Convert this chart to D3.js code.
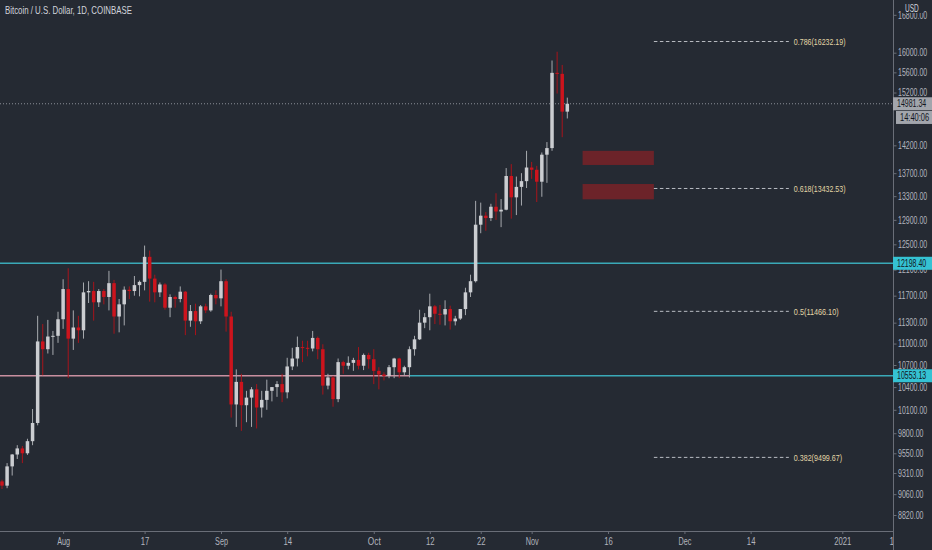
<!DOCTYPE html>
<html>
<head>
<meta charset="utf-8">
<script src="https://cdn.jsdelivr.net/npm/d3@7"></script>
<style>
  body { margin: 0; background: #252a33; overflow: hidden; }
  text { font-family: "Liberation Sans Narrow", "Liberation Sans", sans-serif; }
</style>
</head>
<body>
<div id="box"></div>
<script>
// BTC/USD daily candles, Jul 20 - Nov 8 2020
var firstDay = "2020-07-20";
var opens = [9210,9160,9390,9535,9610,9550,9700,9930,11030,10920,11100,11110,
  11350,11800,11070,11230,11190,11750,11770,11600,11770,11680,11890,11390,11570,11790,11770,11860,11910,12300,11960,11750,11870,11520,11680,11650,11760,11330,11470,11320,11540,11480,11710,
  11660,11920,11390,10170,10470,10160,10260,10370,10130,10230,10350,10400,10440,10330,10680,10790,10950,10940,10930,11080,10920,10420,10530,10240,10740,10690,10730,10770,10690,10840,
  10780,10620,10570,10550,10670,10790,10600,10670,10920,11060,11300,11380,11540,11430,11420,11500,11320,11360,11500,11750,11920,12820,12970,12930,13120,13040,13070,13650,13280,13460,13560,
  13800,13760,13550,14030,14150,15590,15570,14830];
var highs = [9230,9430,9540,9650,9640,9730,10110,11400,11280,11340,11180,11460,
  11950,12120,11480,11400,11900,11920,11910,11800,11800,12080,11940,11650,11840,11840,12000,11930,12480,12400,12020,11900,11890,11720,11700,11840,11770,11560,11580,11560,11580,11730,11780,
  12100,11950,11460,10640,10580,10350,10400,10440,10350,10500,10400,10480,10580,10800,10940,11100,11040,11040,11180,11100,10990,10580,10550,10790,10760,10820,10800,10950,10860,10870,
  10920,10670,10600,10700,10800,10800,10690,10960,11110,11490,11440,11730,11560,11560,11630,11550,11400,11500,11820,12020,13220,13190,13030,13170,13350,13250,13790,13860,13640,13700,14100,
  13900,13830,14070,14260,15840,16020,15750,15100];
var lows = [9120,9130,9280,9480,9430,9530,9650,9900,10560,10860,10840,11010,
  11210,10520,10910,11010,11070,11590,11330,11530,11570,11480,11140,11160,11260,11650,11700,11690,11780,11610,11600,11680,11490,11380,11520,11600,11120,11240,11120,11280,11440,11460,11570,
  11540,11170,10000,9880,9830,9940,9880,9860,10000,10100,10210,10270,10200,10250,10630,10680,10740,10820,10890,10780,10300,10370,10140,10200,10580,10640,10620,10640,10630,10650,
  10440,10370,10490,10520,10520,10520,10550,10530,10830,11050,11220,11190,11280,11270,11260,11200,11260,11340,11410,11680,11900,12680,12720,12880,12900,12780,13060,12920,12980,13140,13440,
  13600,13200,13290,13530,14100,15180,14350,14700];
var closes = [9160,9390,9535,9610,9550,9700,9930,11030,10920,11100,11110,11350,
  11800,11070,11230,11190,11750,11770,11600,11770,11680,11890,11390,11570,11790,11770,11860,11910,12300,11960,11750,11870,11520,11680,11650,11760,11330,11470,11320,11540,11480,11710,11660,
  11920,11390,10170,10470,10160,10260,10370,10130,10230,10350,10400,10440,10330,10680,10790,10950,10940,10930,11080,10920,10420,10530,10240,10740,10690,10730,10770,10690,10840,10780,
  10620,10570,10550,10670,10790,10600,10670,10920,11060,11300,11380,11540,11430,11420,11500,11320,11360,11500,11750,11920,12820,12970,12930,13120,13040,13070,13650,13280,13460,13560,13800,
  13760,13550,14030,14150,15590,15570,14830,14981.34];

var priceTicks = [8820,9060,9310,9550,9800,10100,10400,10700,11000,11300,11700,12100,12500,12900,13300,13700,14200,15200,15600,16000,16800];
var dateTicks = ["2020-08-01","2020-08-17","2020-09-01","2020-09-14","2020-10-01","2020-10-12","2020-10-22",
  "2020-11-01","2020-11-16","2020-12-01","2020-12-14","2021-01-01","2021-01-11"];
var dateLabels = ["Aug","17","Sep","14","Oct","12","22","Nov","16","Dec","14","2021","11"];

// drawings
var fibRatios = ["0.786","0.618","0.5","0.382"];
var fibPrices = [16232.19,13432.53,11466.10,9499.67];
var fibFrom = "2020-11-25", fibTo = "2020-12-21 12";
var zoneTops = [14100,13510];
var zoneBottoms = [13845,13246];
var zoneFrom = "2020-11-11", zoneTo = "2020-11-25";
var levelTop = 12198.40;
var levelBottom = 10553.13;
var levelBottomStart = "2020-10-08";
var lastPrice = 14981.34;
var countdown = "14:40:06";

var width = 932, height = 550;
var plotW = 893, plotH = 531;
var bg = "#252a33";
var charW = 3.65; // the chart font is narrow

var parseDay = d3.timeParse("%Y-%m-%d");
var parseHour = d3.timeParse("%Y-%m-%d %H");
var day0 = parseDay(firstDay);
var candles = closes.map(function(c, i) {
  return {date: d3.timeDay.offset(day0, i), o: opens[i], h: highs[i], l: lows[i], c: c};
});

var x = d3.scaleTime()
  .domain([day0, candles[candles.length - 1].date])
  .range([2, 567.3]);
var y = d3.scaleLog()
  .domain([8820, 16000])
  .range([515, 52.7]);

// squeeze text horizontally so it reads like the narrow chart font
function narrow(sel, per) {
  sel.each(function() {
    var t = d3.select(this);
    var w = this.getComputedTextLength();
    var s = w > 0 ? (this.textContent.length * per) / w : 1;
    var x0 = +t.attr("x") || 0, y0 = +t.attr("y") || 0;
    t.attr("x", 0).attr("y", 0)
      .attr("transform", "translate(" + x0 + "," + y0 + ") scale(" + s + ",1)");
  });
}

var svg = d3.select("#box").append("svg")
  .attr("width", width)
  .attr("height", height);

svg.append("rect").attr("width", width).attr("height", height).attr("fill", bg);

svg.append("clipPath").attr("id", "plotclip")
  .append("rect").attr("width", plotW).attr("height", plotH);

var plot = svg.append("g").attr("clip-path", "url(#plotclip)");

// horizontal levels
plot.append("line")
  .attr("x1", 0).attr("x2", plotW)
  .attr("y1", y(levelTop)).attr("y2", y(levelTop))
  .attr("stroke", "#3aa9b8").attr("stroke-width", 1.5);
plot.append("line")
  .attr("x1", 0).attr("x2", x(parseDay(levelBottomStart)))
  .attr("y1", y(levelBottom)).attr("y2", y(levelBottom))
  .attr("stroke", "#c98fa0").attr("stroke-width", 1.5);
plot.append("line")
  .attr("x1", x(parseDay(levelBottomStart))).attr("x2", plotW)
  .attr("y1", y(levelBottom)).attr("y2", y(levelBottom))
  .attr("stroke", "#3aa9b8").attr("stroke-width", 1.5);

// last price dotted line
plot.append("line")
  .attr("x1", 0).attr("x2", plotW)
  .attr("y1", y(lastPrice)).attr("y2", y(lastPrice))
  .attr("stroke", "#8a8e97").attr("stroke-width", 1)
  .attr("stroke-dasharray", "1,2");

// red zones
plot.selectAll("rect.zone")
  .data(zoneTops)
  .enter().append("rect")
  .attr("class", "zone")
  .attr("x", x(parseDay(zoneFrom)))
  .attr("width", x(parseDay(zoneTo)) - x(parseDay(zoneFrom)))
  .attr("y", function(d) { return y(d); })
  .attr("height", function(d, i) { return y(zoneBottoms[i]) - y(d); })
  .attr("fill", "#6c2329");

// fib levels
var fx1 = x(parseDay(fibFrom)), fx2 = x(parseHour(fibTo));
plot.selectAll("line.fib")
  .data(fibPrices)
  .enter().append("line")
  .attr("class", "fib")
  .attr("x1", fx1).attr("x2", fx2)
  .attr("y1", function(d) { return y(d); })
  .attr("y2", function(d) { return y(d); })
  .attr("stroke", "#b9bcc3").attr("stroke-width", 1)
  .attr("stroke-dasharray", "3.5,2.5");
plot.selectAll("text.fib")
  .data(fibPrices)
  .enter().append("text")
  .attr("class", "fib")
  .attr("x", fx2 + 5)
  .attr("y", function(d) { return y(d) + 3.3; })
  .attr("font-size", 9.5)
  .attr("fill", "#e2d6a6")
  .text(function(d, i) { return fibRatios[i] + "(" + d3.format(".2f")(d) + ")"; })
  .call(narrow, 3.45);

// candles
var upBody = "#cbcdd1", upWick = "#a7aaaf";
var dnBody = "#cc141d", dnWick = "#a8141b";
var bw = 3.5;

plot.selectAll("line.wick")
  .data(candles)
  .enter().append("line")
  .attr("class", "wick")
  .attr("x1", function(d) { return x(d.date); })
  .attr("x2", function(d) { return x(d.date); })
  .attr("y1", function(d) { return y(d.h); })
  .attr("y2", function(d) { return y(d.l); })
  .attr("stroke", function(d) { return d.c >= d.o ? upWick : dnWick; })
  .attr("stroke-width", 1);

plot.selectAll("rect.body")
  .data(candles)
  .enter().append("rect")
  .attr("class", "body")
  .attr("x", function(d) { return x(d.date) - bw / 2; })
  .attr("width", bw)
  .attr("y", function(d) { return y(Math.max(d.o, d.c)); })
  .attr("height", function(d) { return Math.max(1, Math.abs(y(d.o) - y(d.c))); })
  .attr("fill", function(d) { return d.c >= d.o ? upBody : dnBody; });

// title
svg.append("text")
  .attr("x", 5).attr("y", 14)
  .attr("font-size", 10)
  .attr("fill", "#d1d4dc")
  .text("Bitcoin / U.S. Dollar, 1D, COINBASE")
  .call(narrow, 3.63);

// time axis
var xAxis = d3.axisBottom(x)
  .tickValues(dateTicks.map(parseDay))
  .tickFormat(function(d, i) { return dateLabels[i]; })
  .tickSize(3)
  .tickPadding(4);
var gx = svg.append("g").attr("transform", "translate(0," + plotH + ")").call(xAxis);
gx.select(".domain").remove();
gx.selectAll(".tick line").attr("stroke", "#6a6e78");
gx.selectAll(".tick text").attr("fill", "#b2b5be").attr("font-size", 10)
  .attr("font-family", "Liberation Sans Narrow, Liberation Sans, sans-serif")
  .call(narrow, 4.3);
svg.append("line")
  .attr("x1", 0).attr("x2", width)
  .attr("y1", plotH + 0.5).attr("y2", plotH + 0.5)
  .attr("stroke", "#6a6e78");

// price axis panel
svg.append("rect")
  .attr("x", plotW).attr("y", 0)
  .attr("width", width - plotW).attr("height", height)
  .attr("fill", bg);
svg.append("line")
  .attr("x1", plotW + 0.5).attr("x2", plotW + 0.5)
  .attr("y1", 0).attr("y2", height)
  .attr("stroke", "#6a6e78");

var yAxis = d3.axisRight(y)
  .tickValues(priceTicks)
  .tickFormat(d3.format(".2f"))
  .tickSize(3)
  .tickPadding(1.5);
var gy = svg.append("g").attr("transform", "translate(" + (plotW + 0.5) + ",0)").call(yAxis);
gy.select(".domain").remove();
gy.selectAll(".tick line").attr("stroke", "#6a6e78");
gy.selectAll(".tick text").attr("fill", "#b2b5be").attr("font-size", 10)
  .attr("font-family", "Liberation Sans Narrow, Liberation Sans, sans-serif")
  .call(narrow, charW);

// price labels on the axis
function axisLabel(top, fill, txt, left) {
  svg.append("rect")
    .attr("x", left).attr("y", top)
    .attr("width", width - left).attr("height", 13)
    .attr("fill", fill);
  svg.append("text")
    .attr("x", left + 4).attr("y", top + 9.8)
    .attr("font-size", 10)
    .attr("fill", "#131722")
    .text(txt)
    .call(narrow, charW);
}
axisLabel(y(levelTop) - 6.5, "#35c2d3", d3.format(".2f")(levelTop), plotW);
axisLabel(y(levelBottom) - 6.5, "#35c2d3", d3.format(".2f")(levelBottom), plotW);
axisLabel(y(lastPrice) - 6.5, "#a2a5ac", d3.format(".2f")(lastPrice), plotW);
axisLabel(y(lastPrice) + 7.2, "#a2a5ac", countdown, plotW + 3);

// currency
svg.append("rect")
  .attr("x", 902).attr("y", 3).attr("width", 21).attr("height", 10)
  .attr("fill", bg);
svg.append("text")
  .attr("x", 905).attr("y", 12)
  .attr("font-size", 10)
  .attr("fill", "#d1d4dc")
  .text("USD")
  .call(narrow, 4.6);
</script>
</body>
</html>
